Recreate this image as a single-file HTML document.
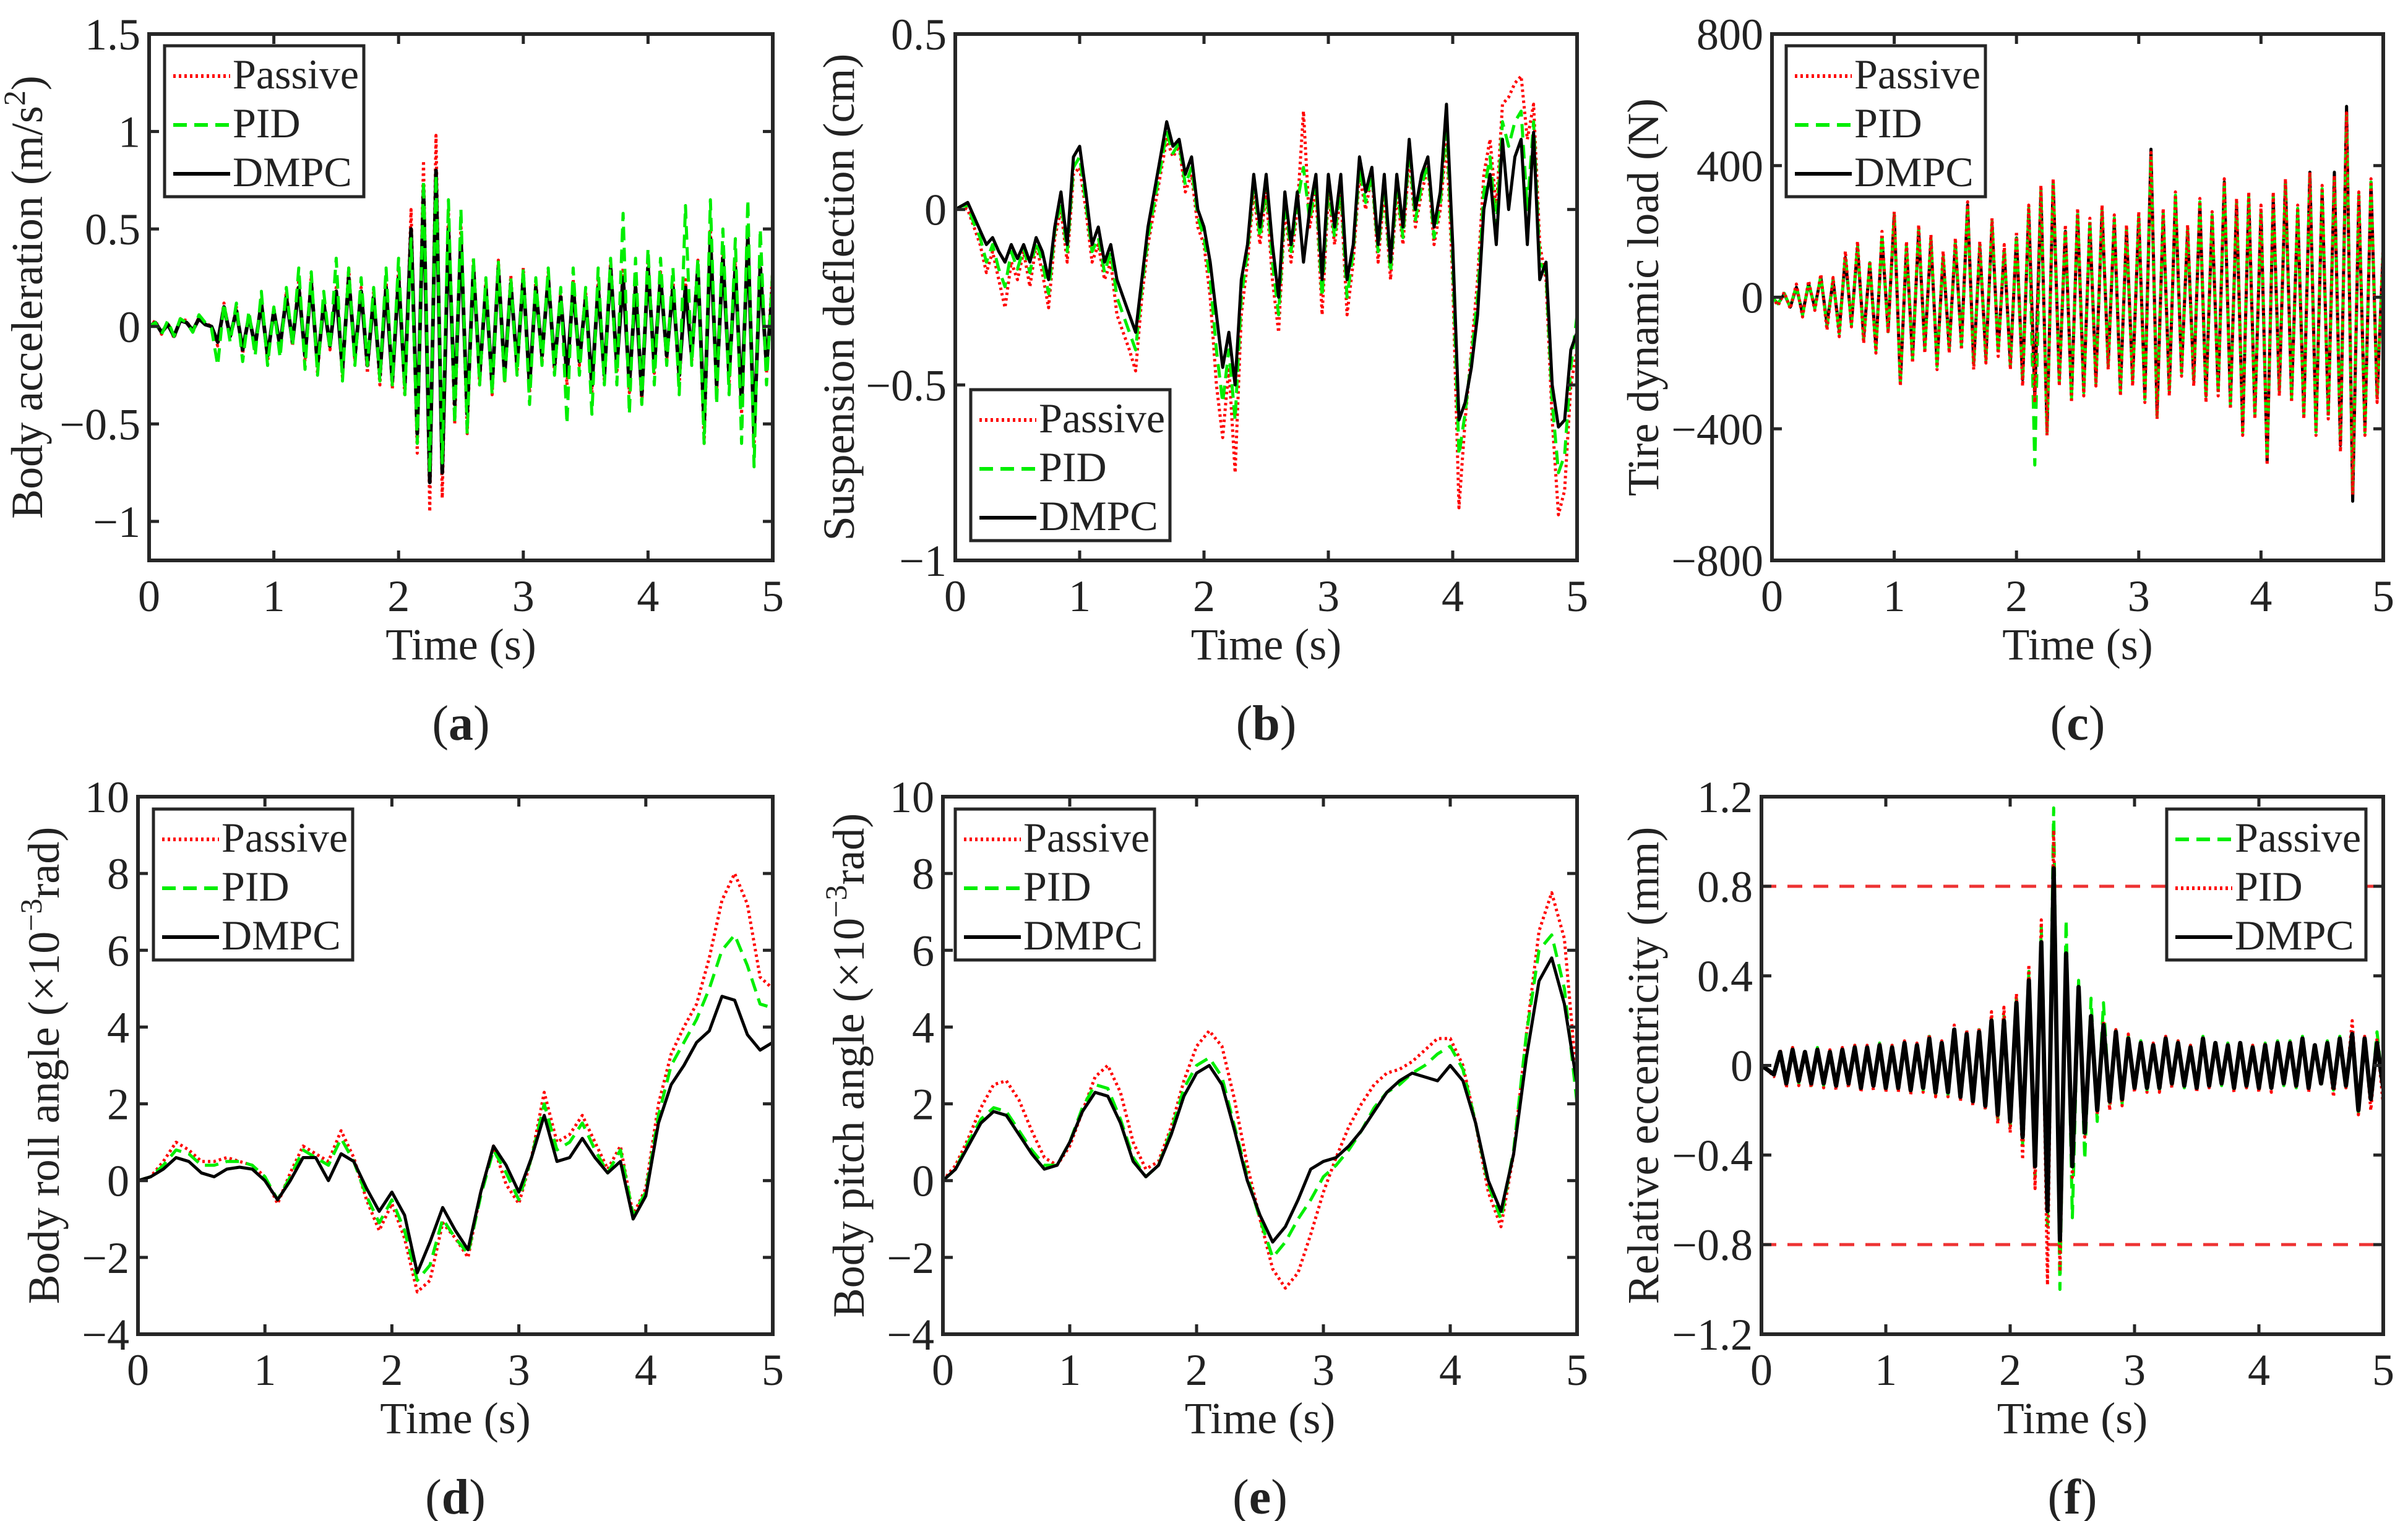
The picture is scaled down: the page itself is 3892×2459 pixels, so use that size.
<!DOCTYPE html>
<html><head><meta charset="utf-8"><style>
html,body{margin:0;padding:0;background:#fff}
svg{display:block}
text{font-family:"Liberation Serif",serif;fill:#222}
</style></head><body>
<svg id="fig" width="3892" height="2459" viewBox="0 0 3892 2459" xmlns="http://www.w3.org/2000/svg"></svg>
<script>
const T_STEP_NOISY = 0.05;
const T_STEP_SMOOTH = 0.1;
// (a) body acceleration
const passiveA=[0,0.03,-0.04,0.02,-0.06,0.04,0.03,-0.03,0.05,0.02,0.0,
-0.1,0.12,-0.06,0.1,-0.14,0.06,-0.12,0.14,-0.18,0.1,
-0.12,0.18,-0.1,0.24,-0.18,0.26,-0.24,0.14,-0.12,0.2,
-0.26,0.3,-0.18,0.2,-0.24,0.18,-0.3,0.24,-0.32,0.3,
-0.36,0.6,-0.65,0.85,-0.95,0.98,-0.88,0.6,-0.5,0.52,
-0.55,0.35,-0.3,0.24,-0.35,0.34,-0.28,0.26,-0.24,0.3,
-0.34,0.24,-0.18,0.28,-0.24,0.18,-0.3,0.24,-0.2,0.18,
-0.34,0.24,-0.28,0.34,-0.24,0.3,-0.34,0.24,-0.4,0.34,
-0.24,0.28,-0.18,0.24,-0.3,0.24,-0.18,0.34,-0.6,0.5,
-0.34,0.4,-0.3,0.34,-0.45,0.5,-0.62,0.35,-0.24,0.3];
const pidA=[0,0.02,-0.04,0.03,-0.05,0.04,0.02,-0.03,0.06,0.02,-0.01,
-0.2,0.12,-0.08,0.12,-0.18,0.08,-0.15,0.18,-0.2,0.1,
-0.16,0.2,-0.1,0.3,-0.22,0.28,-0.25,0.18,-0.12,0.35,
-0.28,0.3,-0.2,0.25,-0.2,0.2,-0.28,0.3,-0.3,0.35,
-0.35,0.45,-0.6,0.75,-0.75,0.78,-0.7,0.65,-0.5,0.6,
-0.55,0.35,-0.3,0.25,-0.35,0.33,-0.3,0.25,-0.25,0.3,
-0.4,0.25,-0.2,0.3,-0.25,0.2,-0.5,0.3,-0.25,0.2,
-0.45,0.3,-0.3,0.35,-0.3,0.58,-0.45,0.35,-0.4,0.4,
-0.3,0.35,-0.2,0.3,-0.35,0.62,-0.2,0.35,-0.6,0.65,
-0.4,0.5,-0.35,0.45,-0.6,0.65,-0.72,0.5,-0.3,0.3];
const dmpcA=[0,0.02,-0.03,0.01,-0.05,0.03,0.02,-0.02,0.04,0.01,0.0,
-0.08,0.1,-0.05,0.08,-0.12,0.05,-0.1,0.12,-0.15,0.08,
-0.1,0.15,-0.08,0.2,-0.15,0.22,-0.2,0.12,-0.1,0.18,
-0.22,0.25,-0.15,0.18,-0.2,0.15,-0.25,0.2,-0.28,0.25,
-0.3,0.5,-0.55,0.7,-0.8,0.8,-0.75,0.5,-0.4,0.45,
-0.45,0.3,-0.25,0.2,-0.3,0.3,-0.25,0.22,-0.2,0.25,
-0.3,0.2,-0.15,0.25,-0.2,0.15,-0.25,0.2,-0.18,0.15,
-0.3,0.2,-0.25,0.3,-0.2,0.25,-0.3,0.2,-0.35,0.3,
-0.2,0.25,-0.15,0.2,-0.25,0.2,-0.15,0.3,-0.5,0.45,
-0.3,0.35,-0.25,0.3,-0.4,0.45,-0.55,0.3,-0.2,0.2];
// (b) suspension deflection
const passiveB=[0.0,0.01,0.0,-0.05,-0.1,-0.18,-0.12,-0.2,-0.28,-0.15,-0.2,
-0.12,-0.22,-0.1,-0.18,-0.28,-0.08,0.0,-0.15,0.1,0.12,
0.0,-0.15,-0.1,-0.2,-0.15,-0.3,-0.35,-0.4,-0.46,-0.25,
-0.1,0.0,0.1,0.2,0.15,0.18,0.05,0.1,-0.05,-0.1,
-0.25,-0.5,-0.65,-0.45,-0.75,-0.3,-0.15,0.05,-0.1,0.05,
-0.2,-0.35,0.0,-0.15,0.0,0.28,-0.05,0.05,-0.3,0.05,
-0.1,0.05,-0.3,-0.15,0.1,0.0,0.1,-0.15,0.05,-0.2,
0.05,-0.1,0.15,-0.05,0.05,0.12,-0.1,0.0,0.2,-0.2,
-0.85,-0.6,-0.4,-0.2,0.1,0.2,0.0,0.3,0.32,0.36,
0.38,0.2,0.3,-0.1,-0.2,-0.6,-0.87,-0.8,-0.5,-0.4];
const pidB=[0.0,0.01,0.01,-0.04,-0.08,-0.15,-0.1,-0.17,-0.22,-0.12,-0.17,
-0.11,-0.18,-0.09,-0.15,-0.24,-0.06,0.02,-0.12,0.12,0.15,
0.02,-0.12,-0.08,-0.18,-0.12,-0.25,-0.3,-0.35,-0.4,-0.22,
-0.08,0.02,0.12,0.22,0.16,0.19,0.07,0.12,-0.02,-0.08,
-0.2,-0.4,-0.55,-0.4,-0.6,-0.25,-0.12,0.08,-0.08,0.07,
-0.15,-0.3,0.02,-0.12,0.02,0.12,-0.03,0.07,-0.25,0.07,
-0.08,0.07,-0.25,-0.12,0.12,0.02,0.1,-0.12,0.07,-0.18,
0.07,-0.08,0.17,-0.03,0.07,0.13,-0.08,0.02,0.25,-0.15,
-0.7,-0.58,-0.42,-0.25,0.05,0.15,-0.05,0.25,0.18,0.25,
0.28,0.0,0.25,-0.15,-0.18,-0.55,-0.75,-0.7,-0.45,-0.3];
const dmpcB=[0.0,0.01,0.02,-0.02,-0.06,-0.1,-0.08,-0.12,-0.15,-0.1,-0.14,
-0.1,-0.15,-0.08,-0.12,-0.2,-0.05,0.05,-0.1,0.15,0.18,
0.05,-0.1,-0.05,-0.15,-0.1,-0.2,-0.25,-0.3,-0.35,-0.2,
-0.05,0.05,0.15,0.25,0.18,0.2,0.1,0.15,0.0,-0.05,
-0.15,-0.3,-0.45,-0.35,-0.5,-0.2,-0.1,0.1,-0.05,0.1,
-0.1,-0.25,0.05,-0.1,0.05,-0.15,0.0,0.1,-0.2,0.1,
-0.05,0.1,-0.2,-0.1,0.15,0.05,0.12,-0.1,0.1,-0.15,
0.1,-0.05,0.2,0.0,0.1,0.15,-0.05,0.05,0.3,-0.1,
-0.6,-0.55,-0.45,-0.3,0.0,0.1,-0.1,0.2,0.0,0.15,
0.2,-0.1,0.22,-0.2,-0.15,-0.5,-0.62,-0.6,-0.4,-0.35];
// (c) tire dynamic load
const passiveC=[0,-25,15,-35,40,-60,50,-40,70,-100,60,
-120,140,-90,170,-140,110,-170,200,-110,260,
-270,170,-200,220,-170,190,-220,140,-170,180,
-160,290,-220,170,-200,240,-180,160,-220,200,
-270,280,-320,340,-420,360,-270,220,-320,270,
-300,240,-270,280,-220,250,-300,220,-270,260,
-320,440,-370,270,-300,320,-240,220,-270,300,
-320,260,-300,360,-340,300,-420,320,-370,280,
-510,320,-300,360,-320,280,-370,380,-420,340,
-370,370,-470,560,-600,320,-420,360,-320,170];
const pidC=[0,-20,12,-30,35,-55,45,-35,65,-90,55,
-110,130,-85,160,-130,105,-160,190,-105,250,
-260,160,-190,210,-160,180,-210,130,-160,170,
-150,270,-210,160,-190,230,-170,150,-210,190,
-260,270,-510,330,-410,350,-260,210,-310,260,
-290,230,-260,270,-210,240,-290,210,-260,250,
-310,430,-360,260,-290,310,-230,210,-260,290,
-310,250,-290,350,-330,290,-410,310,-360,270,
-490,310,-290,350,-310,270,-360,370,-410,330,
-360,360,-440,550,-590,310,-410,350,-310,160];
const dmpcC=[0,-20,10,-30,30,-50,40,-30,60,-80,50,
-100,120,-80,150,-120,100,-150,180,-100,250,
-260,150,-180,200,-150,170,-200,120,-150,160,
-140,280,-200,150,-180,220,-160,140,-200,180,
-250,260,-300,320,-400,350,-250,200,-300,250,
-280,220,-250,260,-200,230,-280,200,-250,240,
-300,450,-350,250,-280,300,-220,200,-250,280,
-300,240,-280,350,-320,280,-400,300,-350,260,
-500,300,-280,350,-300,260,-350,380,-400,320,
-350,380,-450,580,-620,300,-400,350,-300,150];
// (d) body roll angle
const passiveD=[0,0.1,0.5,1.0,0.8,0.5,0.5,0.6,0.5,0.4,0.1,-0.6,0.2,0.9,0.7,0.5,1.3,0.6,-0.5,-1.3,-0.6,-1.5,-2.9,-2.6,-1.1,-1.5,-2.0,-0.3,0.9,-0.1,-0.6,0.6,2.3,1.0,1.2,1.7,1.0,0.3,0.9,-0.9,-0.2,2.0,3.3,4.0,4.6,5.8,7.3,8.0,7.2,5.3,5.0];
const pidD=[0,0.1,0.4,0.8,0.7,0.4,0.4,0.5,0.5,0.4,0.1,-0.5,0.1,0.8,0.6,0.4,1.1,0.5,-0.4,-1.1,-0.5,-1.3,-2.6,-2.2,-1.0,-1.5,-1.9,-0.4,0.8,0.2,-0.5,0.6,2.0,0.8,1.0,1.5,0.8,0.2,0.8,-0.9,-0.3,1.7,3.0,3.6,4.2,5.0,6.0,6.4,5.6,4.6,4.5];
const dmpcD=[0,0.1,0.3,0.6,0.5,0.2,0.1,0.3,0.35,0.3,0.0,-0.5,0.0,0.6,0.6,0.0,0.7,0.5,-0.2,-0.8,-0.3,-0.9,-2.4,-1.6,-0.7,-1.3,-1.8,-0.3,0.9,0.4,-0.3,0.6,1.7,0.5,0.6,1.1,0.6,0.2,0.5,-1.0,-0.4,1.5,2.5,3.0,3.6,3.9,4.8,4.7,3.8,3.4,3.6];
// (e) body pitch angle
const passiveE=[0,0.4,1.1,1.9,2.5,2.6,2.1,1.3,0.6,0.4,0.9,1.8,2.7,3.0,2.3,1.0,0.3,0.5,1.4,2.6,3.5,3.9,3.5,2.1,0.4,-1.0,-2.3,-2.8,-2.4,-1.4,-0.3,0.6,1.4,2.0,2.5,2.8,2.9,3.1,3.4,3.7,3.7,3.0,1.5,-0.3,-1.2,0.7,3.8,6.5,7.5,6.3,2.5];
const pidE=[0,0.3,1.0,1.6,1.9,1.8,1.3,0.8,0.4,0.4,1.0,1.9,2.5,2.4,1.6,0.6,0.1,0.4,1.3,2.4,3.0,3.2,2.7,1.4,0.1,-1.0,-2.0,-1.6,-1.0,-0.5,0.1,0.4,0.8,1.3,1.9,2.3,2.5,2.8,3.0,3.3,3.5,2.9,1.5,-0.1,-1.0,0.8,3.8,6.0,6.4,5.0,2.0];
const dmpcE=[0,0.3,0.9,1.5,1.8,1.7,1.2,0.7,0.3,0.4,1.0,1.8,2.3,2.2,1.5,0.5,0.1,0.4,1.2,2.2,2.8,3.0,2.5,1.3,0.0,-0.9,-1.6,-1.2,-0.5,0.3,0.5,0.6,0.9,1.3,1.8,2.3,2.6,2.8,2.7,2.6,3.0,2.6,1.5,0.0,-0.8,0.7,3.2,5.2,5.8,4.6,2.5];
// (f) relative eccentricity
const passiveF=[0,-0.02,-0.04,0.07,-0.09,0.08,-0.08,0.07,-0.09,0.08,-0.09,
0.07,-0.1,0.08,-0.09,0.09,-0.11,0.09,-0.1,0.1,-0.11,
0.09,-0.11,0.11,-0.12,0.1,-0.11,0.13,-0.13,0.11,-0.13,
0.17,-0.15,0.15,-0.17,0.16,-0.19,0.21,-0.24,0.22,-0.27,
0.3,-0.35,0.42,-0.5,0.62,-0.72,1.15,-1.0,0.65,-0.68,
0.38,-0.42,0.3,-0.25,0.28,-0.18,0.16,-0.17,0.13,-0.11,
0.11,-0.11,0.1,-0.11,0.13,-0.09,0.11,-0.1,0.09,-0.11,
0.13,-0.1,0.11,-0.09,0.1,-0.11,0.11,-0.1,0.09,-0.11,
0.1,-0.11,0.11,-0.09,0.11,-0.1,0.13,-0.11,0.1,-0.09,
0.11,-0.11,0.13,-0.1,0.15,-0.21,0.13,-0.16,0.15,-0.11];
const pidF=[0,-0.02,-0.05,0.07,-0.1,0.08,-0.09,0.07,-0.1,0.08,-0.1,
0.07,-0.11,0.08,-0.1,0.09,-0.12,0.09,-0.11,0.1,-0.12,
0.09,-0.12,0.11,-0.13,0.1,-0.12,0.14,-0.14,0.11,-0.14,
0.18,-0.16,0.16,-0.18,0.17,-0.2,0.24,-0.26,0.26,-0.3,
0.32,-0.42,0.45,-0.55,0.65,-0.98,1.05,-0.92,0.45,-0.5,
0.3,-0.32,0.22,-0.22,0.2,-0.2,0.16,-0.18,0.14,-0.12,
0.11,-0.12,0.1,-0.12,0.13,-0.1,0.11,-0.1,0.09,-0.12,
0.13,-0.1,0.11,-0.09,0.1,-0.12,0.11,-0.1,0.09,-0.12,
0.1,-0.12,0.11,-0.09,0.11,-0.1,0.13,-0.12,0.1,-0.09,
0.11,-0.14,0.13,-0.1,0.2,-0.22,0.13,-0.2,0.12,-0.18];
const dmpcF=[0,-0.02,-0.04,0.06,-0.08,0.07,-0.07,0.06,-0.08,0.07,-0.08,
0.06,-0.09,0.07,-0.08,0.08,-0.1,0.08,-0.09,0.09,-0.1,
0.08,-0.1,0.1,-0.11,0.09,-0.1,0.12,-0.12,0.1,-0.12,
0.16,-0.14,0.14,-0.16,0.15,-0.18,0.2,-0.22,0.2,-0.25,
0.28,-0.32,0.38,-0.45,0.55,-0.65,0.88,-0.78,0.5,-0.45,
0.35,-0.3,0.22,-0.2,0.18,-0.16,0.15,-0.15,0.12,-0.1,
0.1,-0.1,0.09,-0.1,0.12,-0.08,0.1,-0.09,0.08,-0.1,
0.12,-0.09,0.1,-0.08,0.09,-0.1,0.1,-0.09,0.08,-0.1,
0.09,-0.1,0.1,-0.08,0.1,-0.09,0.12,-0.1,0.09,-0.08,
0.1,-0.1,0.12,-0.09,0.14,-0.2,0.12,-0.15,0.1,-0.1];
const limitF=[0.8,-0.8];
const xTicks=[0,1,2,3,4,5];
const yTicksA=[-1,-0.5,0,0.5,1,1.5];
const yTickLabelsA=["\u22121","\u22120.5","0","0.5","1","1.5"];
const yTicksB=[-1,-0.5,0,0.5];
const yTickLabelsB=["\u22121","\u22120.5","0","0.5"];
const yTicksC=[-800,-400,0,400,800];
const yTickLabelsC=["\u2212800","\u2212400","0","400","800"];
const yTicksDE=[-4,-2,0,2,4,6,8,10];
const yTickLabelsDE=["\u22124","\u22122","0","2","4","6","8","10"];
const yTicksF=[-1.2,-0.8,-0.4,0,0.4,0.8,1.2];
const yTickLabelsF=["\u22121.2","\u22120.8","\u22120.4","0","0.4","0.8","1.2"];

const NS="http://www.w3.org/2000/svg";
const svg=document.getElementById('fig');
function mk(tag,attrs,parent){const e=document.createElementNS(NS,tag);for(const k in attrs)e.setAttribute(k,attrs[k]);(parent||svg).appendChild(e);return e;}
const STY={
 passive:{stroke:'#ff0000','stroke-dasharray':'4 5'},
 pid:{stroke:'#00ee00','stroke-dasharray':'22 12'},
 dmpc:{stroke:'#000000'}
};
const FS=72;
function drawPanel(p){
 const g=mk('g',{});
 
 
 const sx=t=>p.x0+(t-0)/(5-0)*(p.x1-p.x0);
 const sy=v=>p.y1-(v-p.ymin)/(p.ymax-p.ymin)*(p.y1-p.y0);
 mk('rect',{x:p.x0,y:p.y0,width:p.x1-p.x0,height:p.y1-p.y0,fill:'#fff'},g);
 const cg=mk('g',{},g);
 const clipId='clip'+p.id;
 const cp=mk('clipPath',{id:clipId},g);
 mk('rect',{x:p.x0,y:p.y0,width:p.x1-p.x0,height:p.y1-p.y0},cp);
 cg.setAttribute('clip-path','url(#'+clipId+')');
 if(p.limits){p.limits.forEach(v=>{
   const l=mk('line',{x1:p.x0,x2:p.x1,y1:sy(v),y2:sy(v),stroke:'#ee3333','stroke-width':5,'stroke-dasharray':'24 18'},cg);
   
   
 });}
 p.series.forEach(s=>{
   const pts=s.data.map((v,i)=>sx(i*p.step).toFixed(1)+','+sy(v).toFixed(1)).join(' ');
   const pl=mk('polyline',Object.assign({points:pts,fill:'none','stroke-width':s.w||5,'stroke-linejoin':'round'},STY[s.kind]),cg);
   
   
 });
 const fr=mk('rect',{x:p.x0,y:p.y0,width:p.x1-p.x0,height:p.y1-p.y0,fill:'none',stroke:'#262626','stroke-width':6},g);
 
 
 const TL=16;
 xTicks.forEach(t=>{
   const x=sx(t);
   mk('line',{x1:x,x2:x,y1:p.y1,y2:p.y1-TL,stroke:'#262626','stroke-width':5},g);
   mk('line',{x1:x,x2:x,y1:p.y0,y2:p.y0+TL,stroke:'#262626','stroke-width':5},g);
   const tx=mk('text',{x:x,y:p.y1+82,'font-size':FS,'text-anchor':'middle'},g);
   tx.textContent=String(t);
   
   
 });
 p.yt.forEach((v,i)=>{
   const y=sy(v);
   mk('line',{x1:p.x0,x2:p.x0+TL,y1:y,y2:y,stroke:'#262626','stroke-width':5},g);
   mk('line',{x1:p.x1,x2:p.x1-TL,y1:y,y2:y,stroke:'#262626','stroke-width':5},g);
   const tx=mk('text',{x:p.x0-14,y:y+25,'font-size':FS,'text-anchor':'end'},g);
   tx.textContent=p.ytl[i];
   
   
 });
 const xt=mk('text',{x:(p.x0+p.x1)/2,y:p.y1+160,'font-size':FS,'text-anchor':'middle'},g);
 xt.textContent='Time (s)';
 
 
 const yc=(p.y0+p.y1)/2;
 const yt=mk('text',{x:0,y:0,'font-size':FS,'text-anchor':'middle',transform:'translate('+p.ylx+','+yc+') rotate(-90)'},g);
 yt.innerHTML=p.ylabel;
 
 
 const cap=mk('text',{x:(p.x0+p.x1)/2,y:p.y1+290,'font-size':80,'text-anchor':'middle'},g);
 cap.innerHTML='(<tspan font-weight="bold">'+p.id+'</tspan>)';
 
 
 const lg=mk('g',{},g);
 
 
 mk('rect',{x:p.lx,y:p.ly,width:322,height:244,fill:'#fff',stroke:'#262626','stroke-width':5},lg);
 p.legend.forEach((e,i)=>{
   const by=p.ly+69+i*79;
   const ll=mk('line',Object.assign({x1:p.lx+14,x2:p.lx+106,y1:by-20,y2:by-20,'stroke-width':6},STY[e.kind]),lg);
   
   
   const t=mk('text',{x:p.lx+110,y:by,'font-size':68},lg);
   t.textContent=e.label;
   
   
 });
}
const stdLegend=[{kind:'passive',label:'Passive'},{kind:'pid',label:'PID'},{kind:'dmpc',label:'DMPC'}];
const panels=[
 {id:'a',x0:241,x1:1249,y0:55,y1:906,ymin:-1.2,ymax:1.5,yt:yTicksA,ytl:yTickLabelsA,step:T_STEP_NOISY,
  ylx:68,ylabel:'Body acceleration (m/s<tspan baseline-shift="super" font-size="50">2</tspan>)',lx:266,ly:74,legend:stdLegend,
  series:[{kind:'passive',data:passiveA},{kind:'dmpc',data:dmpcA,w:6},{kind:'pid',data:pidA}]},
 {id:'b',x0:1544,x1:2549,y0:55,y1:906,ymin:-1,ymax:0.5,yt:yTicksB,ytl:yTickLabelsB,step:T_STEP_NOISY,
  ylx:1380,ylabel:'Suspension deflection (cm)',lx:1569,ly:630,legend:stdLegend,
  series:[{kind:'passive',data:passiveB},{kind:'pid',data:pidB},{kind:'dmpc',data:dmpcB}]},
 {id:'c',x0:2864,x1:3852,y0:55,y1:906,ymin:-800,ymax:800,yt:yTicksC,ytl:yTickLabelsC,step:T_STEP_NOISY,
  ylx:2680,ylabel:'Tire dynamic load (N)',lx:2887,ly:74,legend:stdLegend,
  series:[{kind:'dmpc',data:dmpcC},{kind:'pid',data:pidC},{kind:'passive',data:passiveC}]},
 {id:'d',x0:223,x1:1249,y0:1288,y1:2157,ymin:-4,ymax:10,yt:yTicksDE,ytl:yTickLabelsDE,step:T_STEP_SMOOTH,
  ylx:95,ylabel:'Body roll angle (×10<tspan baseline-shift="super" font-size="50">−3</tspan>rad)',lx:248,ly:1308,legend:stdLegend,
  series:[{kind:'passive',data:passiveD},{kind:'pid',data:pidD},{kind:'dmpc',data:dmpcD}]},
 {id:'e',x0:1524,x1:2549,y0:1288,y1:2157,ymin:-4,ymax:10,yt:yTicksDE,ytl:yTickLabelsDE,step:T_STEP_SMOOTH,
  ylx:1396,ylabel:'Body pitch angle (×10<tspan baseline-shift="super" font-size="50">−3</tspan>rad)',lx:1544,ly:1308,legend:stdLegend,
  series:[{kind:'passive',data:passiveE},{kind:'pid',data:pidE},{kind:'dmpc',data:dmpcE}]},
 {id:'f',x0:2847,x1:3852,y0:1288,y1:2157,ymin:-1.2,ymax:1.2,yt:yTicksF,ytl:yTickLabelsF,step:T_STEP_NOISY,limits:limitF,
  ylx:2680,ylabel:'Relative eccentricity (mm)',lx:3502,ly:1308,
  legend:[{kind:'pid',label:'Passive'},{kind:'passive',label:'PID'},{kind:'dmpc',label:'DMPC'}],
  series:[{kind:'pid',data:passiveF},{kind:'passive',data:pidF},{kind:'dmpc',data:dmpcF,w:7}]}
];
panels.forEach(drawPanel);
</script>
</body></html>
